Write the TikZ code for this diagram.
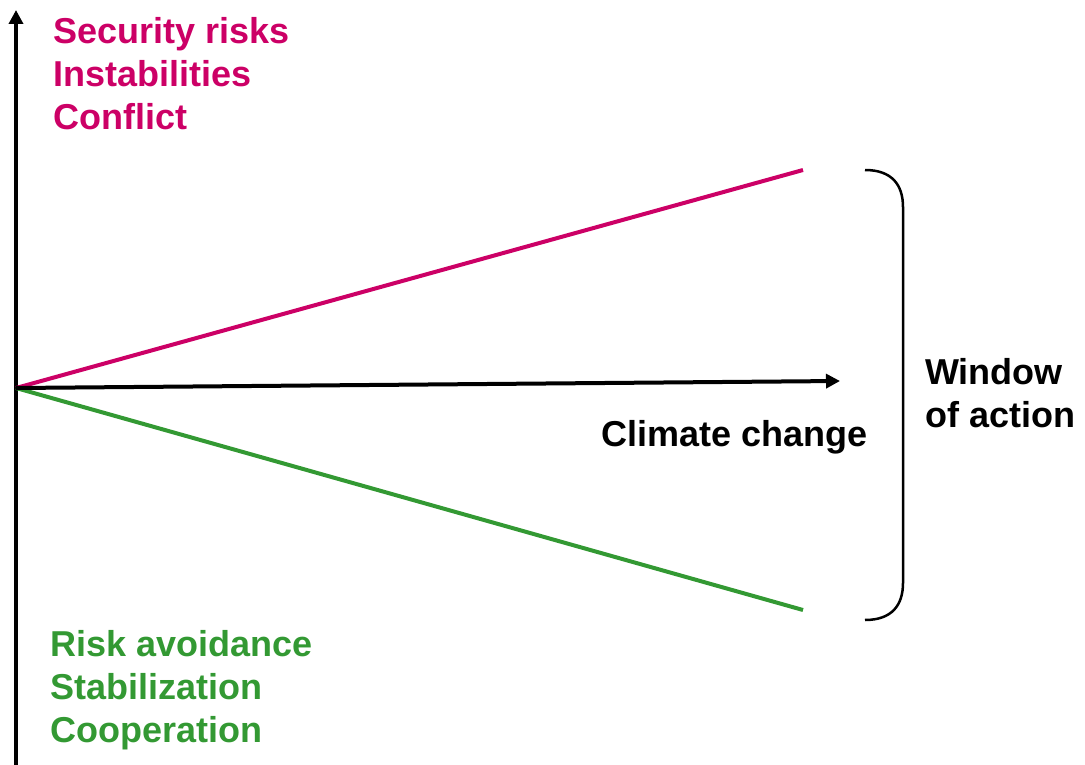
\documentclass[tikz,border=0pt]{standalone}
\usepackage{fontspec}
\setmainfont{Liberation Sans}
\usetikzlibrary{arrows.meta}
\definecolor{riskred}{RGB}{204,0,102}
\definecolor{coopgreen}{RGB}{51,153,51}
\begin{document}
\begin{tikzpicture}[x=1pt,y=-1pt,
  lbl/.style={anchor=base west,inner sep=0pt,font=\fontsize{36}{43}\selectfont\bfseries},
  axis/.style={line width=4pt,-{Triangle[length=14pt,width=14pt]}},
  trend/.style={line width=4pt}]
\useasboundingbox (0,0) rectangle (1085,765);
\coordinate (o) at (16,388);
\coordinate (ybot) at (16,766);
\coordinate (ytop) at (16,10);
\coordinate (xend) at (840,381);
\coordinate (up) at (803,170);
\coordinate (down) at (803,610);
\draw[axis] (ybot) -- (ytop);
\draw[trend,riskred] (o) -- (up);
\draw[trend,coopgreen] (o) -- (down);
\draw[axis] (o) -- (xend);
\draw[line width=2.5pt] (865,170) .. controls (892,170) and (903,185) .. (903,207) -- (903,583) .. controls (903,605) and (892,620) .. (865,620);
\node[lbl,riskred] (s1) at (53,44) {Security risks};
\node[lbl,riskred] (s2) at (53,87) {Instabilities};
\node[lbl,riskred] (s3) at (53,130) {Conflict};
\node[lbl,coopgreen] (g1) at (50,656) {Risk avoidance};
\node[lbl,coopgreen] (g2) at (50,699) {Stabilization};
\node[lbl,coopgreen] (g3) at (50,742) {Cooperation};
\node[lbl] (cc) at (601,446) {Climate change};
\node[lbl] (w1) at (925,384) {Window};
\node[lbl] (w2) at (925,427) {of action};
\end{tikzpicture}
\end{document}
